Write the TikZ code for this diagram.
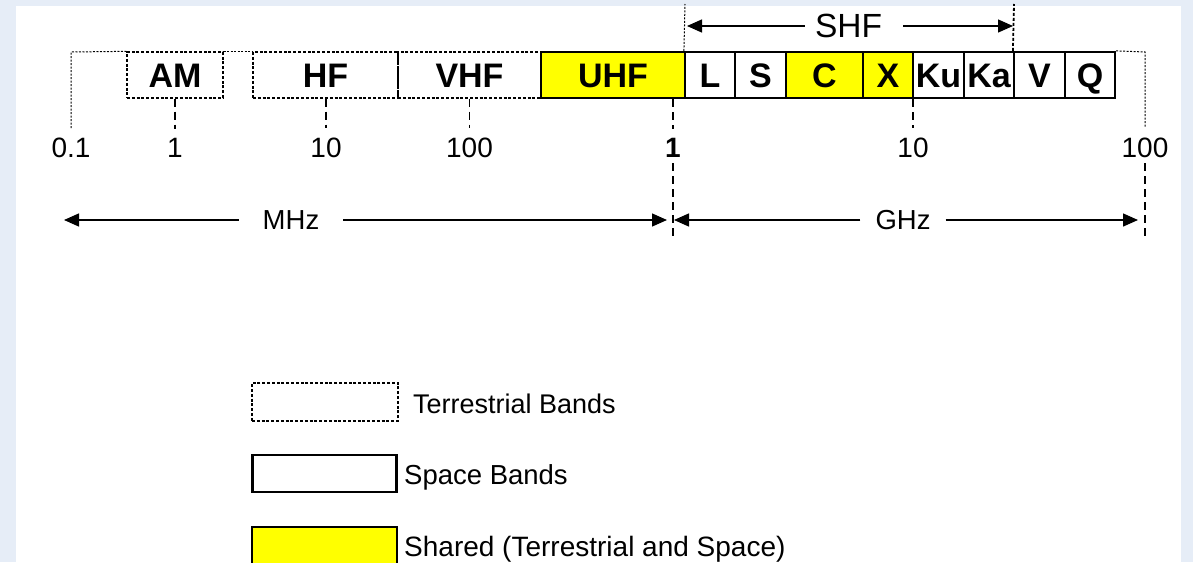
\documentclass[tikz,border=0pt]{standalone}
\usepackage{fontspec}
\setmainfont{Liberation Sans}
\usetikzlibrary{arrows.meta}
\definecolor{bgblue}{RGB}{230,237,247}
\definecolor{bandyellow}{RGB}{255,255,0}
\begin{document}
\begin{tikzpicture}[x=1pt,y=-1pt,
  bandfont/.style={font=\fontsize{34}{38}\selectfont\bfseries, text height=24pt, text depth=0pt},
  terr/.style={draw=black, line width=1.3pt, dash pattern=on 3pt off 1.8pt, minimum height=46pt, inner sep=0pt, bandfont},
  space/.style={draw=black, line width=2.2pt, minimum height=46pt, inner sep=0pt, bandfont},
  shared/.style={space, fill=bandyellow},
  tickline/.style={line width=1.8pt, dash pattern=on 8pt off 5pt},
  guide/.style={line width=1pt, dash pattern=on 2pt off 1.5pt},
  thickguide/.style={line width=1.8pt, dash pattern=on 3pt off 2pt},
  num/.style={inner sep=0pt, anchor=base, font=\fontsize{28}{32}\selectfont},
  lbl/.style={inner sep=0pt, font=\fontsize{27.5}{32}\selectfont},
  arr/.style={line width=1.4pt, -{Triangle[length=15pt,width=13pt]}}
]
\useasboundingbox (0,0) rectangle (1193,562);
\clip (0,0) rectangle (1193,562);
\fill[bgblue] (0,0) rectangle (1193,562);
\fill[white] (16,6) rectangle (1181,562);

% terrestrial bands
\node[terr, minimum width=96pt]  (am)  at (175,75)   {AM};
\node[terr, minimum width=145pt] (hf)  at (325.5,75) {HF};
\node[terr, minimum width=143pt] (vhf) at (469.5,75) {VHF};

% outline of terrestrial range
\coordinate (olb) at (71,128);
\coordinate (olt) at (71,52);
\coordinate (orb) at (1145,128);
\coordinate (ort) at (1145,52);
\draw[guide] (olb) -- (olt) -- (am.north west);
\draw[guide] (am.north east) -- (hf.north west);

% space / shared bands
\node[shared, minimum width=144pt] (uhf) at (613,75)    {UHF};
\node[space,  minimum width=50pt]  (l)   at (710,75)    {L};
\node[space,  minimum width=51pt]  (s)   at (760.5,75)  {S};
\node[shared, minimum width=77pt]  (c)   at (824.5,75)  {C};
\node[shared, minimum width=50pt]  (x)   at (888,75)    {X};
\node[space,  minimum width=51pt]  (ku)  at (938.5,75)  {Ku};
\node[space,  minimum width=50pt]  (ka)  at (989,75)    {Ka};
\node[space,  minimum width=51pt]  (v)   at (1039.5,75) {V};
\node[space,  minimum width=50pt]  (q)   at (1090,75)   {Q};
\draw[guide] (q.north east) -- (ort) -- (orb);

% scale numbers
\node[num] (n01)  at (71,157)   {0.1};
\node[num] (n1)   at (175,157)  {1};
\node[num] (n10)  at (326,157)  {10};
\node[num] (n100) at (469.5,157)  {100};
\node[num, font=\fontsize{28}{32}\selectfont\bfseries] (g1) at (673,157) {1};
\node[num] (g10)  at (913,157)  {10};
\node[num] (g100) at (1145,157) {100};

% ticks
\draw[tickline] (n1 |- am.south) -- ([yshift=9pt]n1.north);
\draw[tickline] (n10 |- hf.south) -- ([yshift=9pt]n10.north);
\draw[tickline] (n100 |- vhf.south) -- ([yshift=9pt]n100.north);
\draw[tickline] (g1 |- uhf.south) -- ([yshift=9pt]g1.north);
\draw[tickline] (g10 |- x.south) -- ([yshift=9pt]g10.north);
\coordinate (g1low) at (673,241);
\coordinate (g100low) at (1145,241);
\draw[tickline] ([yshift=-6pt]g1.south) -- (g1low);
\draw[tickline] ([yshift=-6pt]g100.south) -- (g100low);

% SHF
\coordinate (shfL) at (685,4);
\coordinate (shfR) at (1014,4);
\draw[guide] (l.north west) -- (shfL);
\draw[thickguide] (v.north west) -- (shfR);
\node[lbl, font=\fontsize{33.5}{38}\selectfont] (shf) at (848.5,26) {SHF};
\coordinate (shfA) at (687,26);
\coordinate (shfB) at (1013,26);
\draw[arr] ([xshift=-10pt]shf.west) -- (shfA);
\draw[arr] ([xshift=21pt]shf.east) -- (shfB);

% MHz / GHz
\node[lbl, inner xsep=24pt] (mhz) at (291,220) {MHz};
\coordinate (mhzA) at (64,220);
\coordinate (mhzB) at (667,220);
\draw[arr] (mhz.west) -- (mhzA);
\draw[arr] (mhz.east) -- (mhzB);
\node[lbl, inner xsep=15pt] (ghz) at (903,220) {GHz};
\coordinate (ghzA) at (674,220);
\coordinate (ghzB) at (1138,220);
\draw[arr] (ghz.west) -- (ghzA);
\draw[arr] (ghz.east) -- (ghzB);

% legend
\node[terr, minimum width=146pt, minimum height=38pt] (lt) at (325,402) {};
\node[lbl, anchor=base west, font=\fontsize{27}{32}\selectfont] (ltt) at (413,413) {Terrestrial Bands};
\node[space, minimum width=144pt, minimum height=37pt] (ls) at (324.5,473.5) {};
\node[lbl, anchor=base west] (lst) at (404,484) {Space Bands};
\node[shared, minimum width=145pt, minimum height=40pt] (lsh) at (324.5,547) {};
\node[lbl, anchor=base west, font=\fontsize{28}{32}\selectfont] (lsht) at (404,556) {Shared (Terrestrial and Space)};
\end{tikzpicture}
\end{document}
